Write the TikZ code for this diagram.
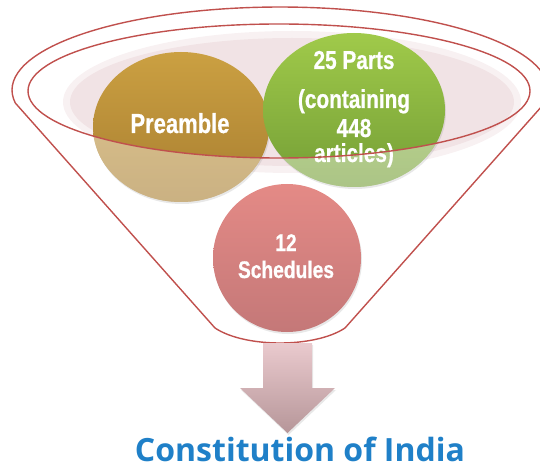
\documentclass[tikz,border=0pt]{standalone}
\usepackage{fontspec}
\usetikzlibrary{shapes.geometric,shadows}
\newfontfamily\labfont[FakeStretch=0.8,FakeBold=0.6]{Liberation Sans Bold}
\newfontfamily\titlefont{Open Sans}
\definecolor{rim}{RGB}{192,80,77}
\definecolor{pinkbg}{RGB}{241,227,229}
\definecolor{pretop}{RGB}{203,160,66}
\definecolor{prebot}{RGB}{168,126,48}
\definecolor{grntop}{RGB}{160,202,74}
\definecolor{grnbot}{RGB}{116,158,54}
\definecolor{schtop}{RGB}{228,138,134}
\definecolor{schbot}{RGB}{196,120,120}
\definecolor{arrtop}{RGB}{234,202,206}
\definecolor{arrbot}{RGB}{182,150,153}
\definecolor{titleblue}{RGB}{31,128,200}
\tikzset{
  bubble/.style={ellipse, inner sep=0pt, outer sep=0pt,
    drop shadow={opacity=0.18, shadow xshift=1pt, shadow yshift=-2pt}},
  rimline/.style={draw=rim, line width=1.4pt},
  lab/.style={anchor=base, inner sep=0pt, text=white},
}
\begin{document}
\begin{tikzpicture}[x=1pt,y=1pt]
\useasboundingbox (0,0) rectangle (540,469);
\clip (0,0) rectangle (540,469);
% soft pink background
\fill[pinkbg, opacity=0.5] (292,367) ellipse [x radius=229, y radius=71];
\fill[pinkbg] (292,367) ellipse [x radius=222, y radius=64];
% circles
\node[bubble, minimum width=176pt, minimum height=150pt, top color=pretop, bottom color=prebot] (pre) at (181,342) {};
\node[bubble, minimum width=182pt, minimum height=154pt, top color=grntop, bottom color=grnbot] (parts) at (354,359) {};
\node[bubble, minimum width=148pt, minimum height=148pt, top color=schtop, bottom color=schbot] (sch) at (287,211) {};
% faded lower parts
\begin{scope}
  \clip (181,342) ellipse [x radius=88, y radius=75] (354,359) ellipse [x radius=91, y radius=77];
  \fill[white, opacity=0.4, even odd rule] (0,0) rectangle (540,469) (279,378) ellipse [x radius=251, y radius=67];
\end{scope}
% labels
\node[lab, font=\labfont\fontsize{27.5}{28}\selectfont] (tpre) at (180,336) {Preamble};
\node[lab, font=\labfont\fontsize{26}{28}\selectfont] (t1) at (354,400) {25 Parts};
\node[lab, font=\labfont\fontsize{26}{28}\selectfont] (t2) at (354,361) {(containing};
\node[lab, font=\labfont\fontsize{26}{28}\selectfont] (t3) at (354,332) {448};
\node[lab, font=\labfont\fontsize{26}{28}\selectfont] (t4) at (354,307) {articles)};
\node[lab, font=\labfont\fontsize{24}{28}\selectfont] (s1) at (286,218) {12};
\node[lab, font=\labfont\fontsize{24}{28}\selectfont] (s2) at (286,191) {Schedules};
% funnel rim and body
\draw[rimline] (279,378) ellipse [x radius=251, y radius=67];
\draw[rimline] (544.7,366) arc [start angle=-9, end angle=189, x radius=268, y radius=83]
  -- (215,141) .. controls (245,121) and (315,121) .. (345,141) -- cycle;
% arrow
\path[top color=arrtop, bottom color=arrbot,
      drop shadow={opacity=0.18, shadow xshift=1pt, shadow yshift=-2pt}]
  (263,126) -- (312,126) -- (312,81) -- (335,81) -- (287.5,36) -- (240,81) -- (263,81) -- cycle;
% title
\node[anchor=base, inner sep=0pt, text depth=0pt, text=titleblue, font=\titlefont\bfseries\fontsize{32}{36}\selectfont] (title) at (300,7.5) {Constitution of India};
\end{tikzpicture}
\end{document}
